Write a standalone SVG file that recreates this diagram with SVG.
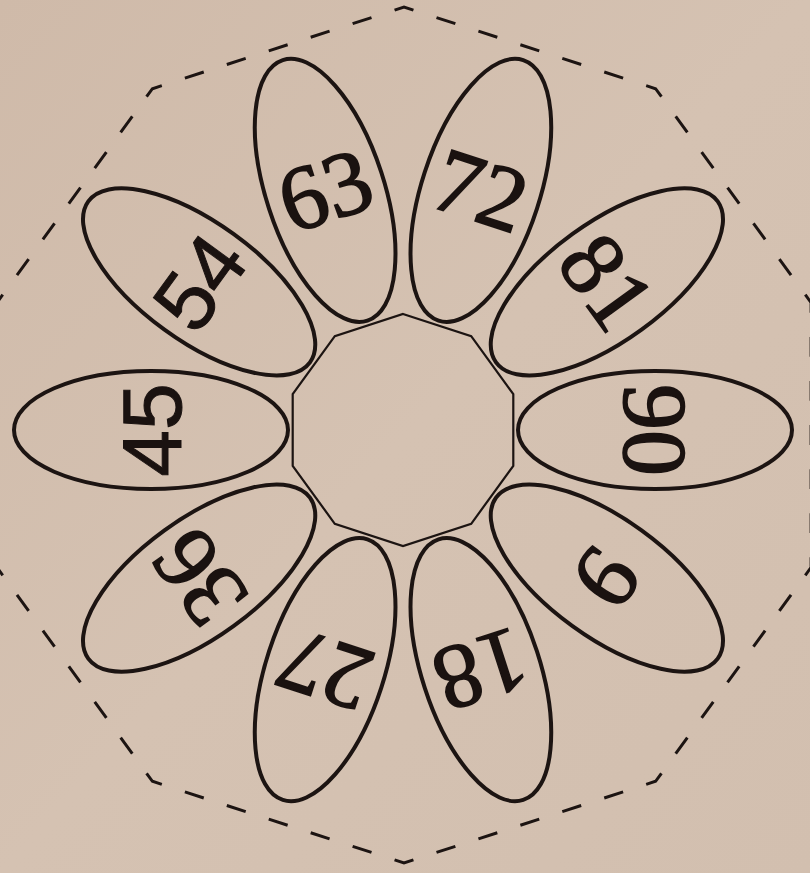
<svg xmlns="http://www.w3.org/2000/svg" width="810" height="873" viewBox="0 0 810 873">
<defs>
<linearGradient id="bg" x1="0" y1="0" x2="1" y2="1">
<stop offset="0" stop-color="#cfbaa9"/>
<stop offset="0.5" stop-color="#d5c2b2"/>
<stop offset="1" stop-color="#d2bfaf"/>
</linearGradient>
</defs>
<style>
.petal{fill:none;stroke:#1c1412;stroke-width:4}
.core{fill:none;stroke:#1c1412;stroke-width:2.2}
.outline{fill:none;stroke:#1c1412;stroke-width:3}
.num{font-family:"Liberation Serif","Times New Roman",serif;font-size:92px;fill:#1a1210;stroke:#1a1210;stroke-width:1.6;text-anchor:middle}
.sans{font-family:"Liberation Sans",Arial,sans-serif;font-size:84px;stroke-width:1}
</style>
<rect width="810" height="873" fill="url(#bg)"/>
<g id="outline">
<polygon class="outline" pathLength="600" stroke-dasharray="4.5 5.5" stroke-dashoffset="2.25" points="404,7 655.6,88.7 811.1,302.7 811.1,567.3 655.6,781.3 404,863 152.4,781.3 -3.1,567.3 -3.1,302.7 152.4,88.7"/>
</g>
<g id="center">
<polygon class="core" points="403,314 471.2,336.2 513.3,394.2 513.3,465.8 471.2,523.8 403,546 334.8,523.8 292.7,465.8 292.7,394.2 334.8,336.2"/>
</g>
<g id="petal-90"><ellipse class="petal" cx="655" cy="430" rx="137" ry="59"/><text class="num" transform="translate(655 430) rotate(90)" y="31">90</text></g>
<g id="petal-81" transform="rotate(-36 403 430)"><ellipse class="petal" cx="655" cy="430" rx="137" ry="59"/><text class="num" transform="translate(655 430) rotate(90)" y="31">81</text></g>
<g id="petal-72" transform="rotate(-72 403 430)"><ellipse class="petal" cx="655" cy="430" rx="137" ry="59"/><text class="num" transform="translate(655 430) rotate(90)" y="31">72</text></g>
<g id="petal-63" transform="rotate(-108 403 430)"><ellipse class="petal" cx="655" cy="430" rx="137" ry="59"/><text class="num" transform="translate(655 430) rotate(90)" y="31">63</text></g>
<g id="petal-54" transform="rotate(-144 403 430)"><ellipse class="petal" cx="655" cy="430" rx="137" ry="59"/><text class="num sans" transform="translate(655 430) rotate(90)" y="30">54</text></g>
<g id="petal-45" transform="rotate(-180 403 430)"><ellipse class="petal" cx="655" cy="430" rx="137" ry="59"/><text class="num sans" transform="translate(655 430) rotate(90)" y="30">45</text></g>
<g id="petal-36" transform="rotate(-216 403 430)"><ellipse class="petal" cx="655" cy="430" rx="137" ry="59"/><text class="num" transform="translate(655 430) rotate(90)" y="31">36</text></g>
<g id="petal-27" transform="rotate(-252 403 430)"><ellipse class="petal" cx="655" cy="430" rx="137" ry="59"/><text class="num" transform="translate(655 430) rotate(90)" y="31">27</text></g>
<g id="petal-18" transform="rotate(-288 403 430)"><ellipse class="petal" cx="655" cy="430" rx="137" ry="59"/><text class="num" transform="translate(655 430) rotate(90)" y="31">18</text></g>
<g id="petal-9" transform="rotate(-324 403 430)"><ellipse class="petal" cx="655" cy="430" rx="137" ry="59"/><text class="num" transform="translate(655 430) rotate(90)" y="31">9</text></g>
<g id="connectors"/>
</svg>
